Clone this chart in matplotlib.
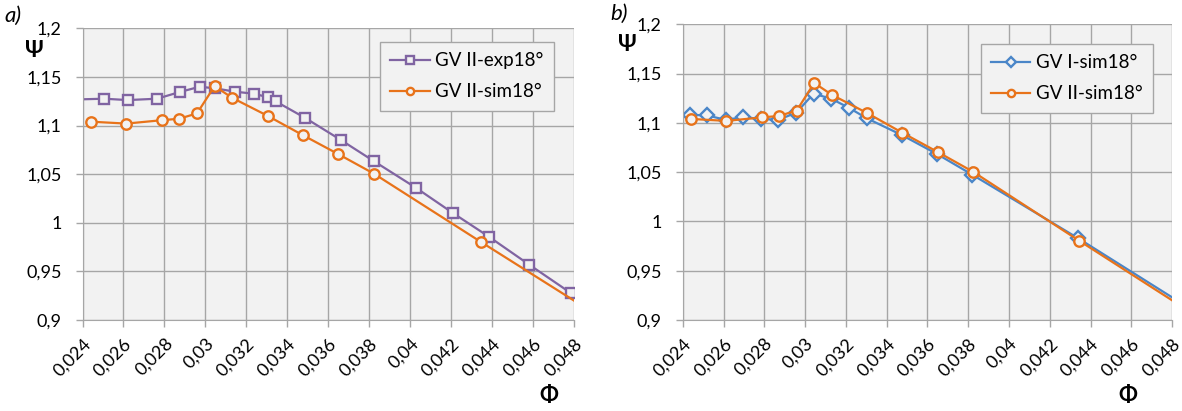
import matplotlib
matplotlib.use("Agg")
import matplotlib.pyplot as plt

# DATA
# a) GV II experiment
exp_x = [0.0240, 0.02505, 0.02621, 0.02764, 0.02875, 0.02972, 0.03047, 0.03145, 0.03239,
         0.03307, 0.03343, 0.03486, 0.03662, 0.03824, 0.04028, 0.04211, 0.04385, 0.04582, 0.04787]
exp_y = [1.127, 1.1276, 1.1262, 1.1276, 1.1345, 1.1399, 1.1383, 1.1348, 1.1327,
         1.129, 1.1249, 1.108, 1.0851, 1.0632, 1.036, 1.0097, 0.9856, 0.9568, 0.9274]

# GV II simulation (both panels)
sim2_x = [0.02440, 0.02614, 0.02787, 0.02872, 0.02959, 0.03045, 0.03131, 0.03304,
          0.03477, 0.03650, 0.03823, 0.04344, 0.0480]
sim2_y = [1.104, 1.102, 1.1055, 1.107, 1.1125, 1.1405, 1.1285, 1.110,
          1.090, 1.0705, 1.0505, 0.9805, 0.920]

# b) GV I simulation
sim1_x = [0.02436, 0.0252, 0.0261, 0.02696, 0.02783, 0.02868, 0.02956, 0.03042, 0.03128,
          0.03215, 0.03302, 0.03473, 0.03647, 0.03821, 0.04341, 0.0480]
sim1_y = [1.1082, 1.1075, 1.1031, 1.1057, 1.1041, 1.1031, 1.1102, 1.1296, 1.1245,
          1.1153, 1.1047, 1.0878, 1.0684, 1.0473, 0.9827, 0.923]

x_ticks = [0.024, 0.026, 0.028, 0.030, 0.032, 0.034, 0.036, 0.038, 0.040, 0.042, 0.044, 0.046, 0.048]
x_labels = ["0,024", "0,026", "0,028", "0,03", "0,032", "0,034", "0,036", "0,038",
            "0,04", "0,042", "0,044", "0,046", "0,048"]
y_ticks = [0.9, 0.95, 1.0, 1.05, 1.1, 1.15, 1.2]
y_labels = ["0,9", "0,95", "1", "1,05", "1,1", "1,15", "1,2"]

PURPLE = "#8064A2"
ORANGE = "#E8731A"
BLUE = "#4A86C8"
BG = "#F2F2F2"
GRID = "#A6A6A6"

plt.rcParams["font.family"] = ["Lato", "DejaVu Sans"]

fig = plt.figure(figsize=(11.82, 4.11), dpi=100)
ax_a = fig.add_axes([0.0698, 0.2214, 0.4158, 0.7097])
ax_b = fig.add_axes([0.5776, 0.2214, 0.4140, 0.7195])


def style_axes(ax):
    ax.set_facecolor(BG)
    ax.set_xlim(0.024, 0.048)
    ax.set_ylim(0.9, 1.2)
    ax.set_xticks(x_ticks)
    ax.set_xticklabels(x_labels, rotation=45, ha="right", rotation_mode="anchor", fontsize=13)
    ax.set_yticks(y_ticks)
    ax.set_yticklabels(y_labels, fontsize=13)
    ax.grid(True, color=GRID, linewidth=1.0)
    ax.set_axisbelow(True)
    for side in ["top", "right"]:
        ax.spines[side].set_visible(False)
    for side in ["left", "bottom"]:
        ax.spines[side].set_color(GRID)
    ax.tick_params(axis="both", length=5, color=GRID, width=1.0)
    ax.tick_params(axis="y", pad=10)
    ax.tick_params(axis="x", pad=6)


def series(ax, x, y, color, marker, label, skip_first=False, skip_last=False, ms=7.5):
    idx = list(range(len(x)))
    if skip_first:
        idx = idx[1:]
    if skip_last:
        idx = idx[:-1]
    ax.plot(x, y, color=color, lw=1.6, marker=marker, markevery=idx, ms=ms,
            mfc=BG, mec=color, mew=1.7, label=label, clip_on=True)


style_axes(ax_a)
series(ax_a, exp_x, exp_y, PURPLE, "s", "GV II-exp18°", skip_first=True)
series(ax_a, sim2_x, sim2_y, ORANGE, "o", "GV II-sim18°", skip_last=True)

style_axes(ax_b)
series(ax_b, sim1_x, sim1_y, BLUE, "D", "GV I-sim18°", skip_last=True, ms=7)
series(ax_b, sim2_x, sim2_y, ORANGE, "o", "GV II-sim18°", skip_last=True)

for ax, anchor in [(ax_a, (0.9593, 0.953)), (ax_b, (0.9612, 0.9334))]:
    leg = ax.legend(loc="upper right", bbox_to_anchor=anchor, fontsize=13.5,
                    frameon=True, fancybox=False, handlelength=2.1,
                    labelspacing=0.75, borderpad=0.55, handletextpad=0.3,
                    markerscale=0.7, borderaxespad=0)
    leg.get_frame().set_facecolor(BG)
    leg.get_frame().set_edgecolor(GRID)
    leg.get_frame().set_linewidth(1.0)
    leg.get_frame().set_alpha(1)

# panel letters and axis symbols
fig.text(0.004, 0.962, "a)", fontsize=16, style="italic", va="center")
fig.text(0.516, 0.965, "b)", fontsize=16, style="italic", va="center")
fig.text(0.029, 0.878, "Ψ", fontsize=16, fontweight="bold", ha="center", va="center")
fig.text(0.531, 0.891, "Ψ", fontsize=16, fontweight="bold", ha="center", va="center")
fig.text(0.464, 0.038, "Φ", fontsize=16, fontweight="bold", ha="center", va="center")
fig.text(0.954, 0.038, "Φ", fontsize=16, fontweight="bold", ha="center", va="center")

fig.savefig("out.png", dpi=100)
